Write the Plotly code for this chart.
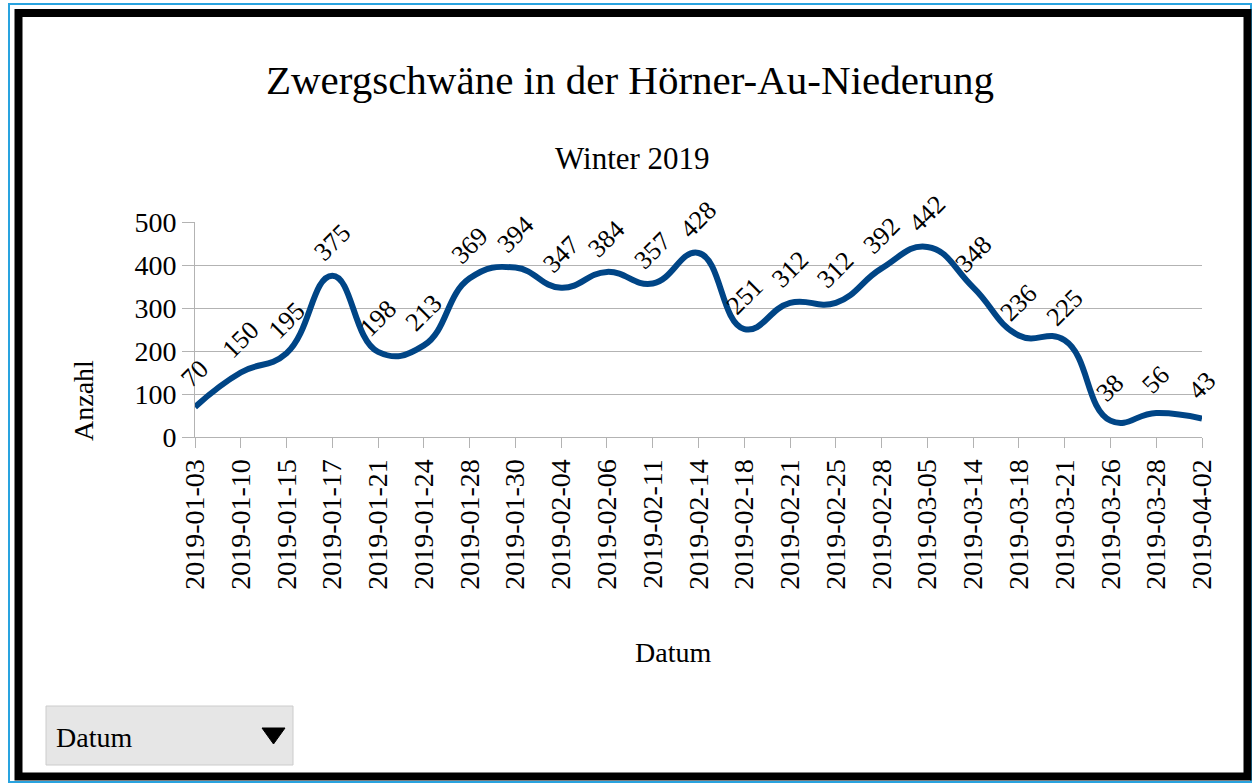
import plotly.graph_objects as go

dates = ["2019-01-03", "2019-01-10", "2019-01-15", "2019-01-17", "2019-01-21", "2019-01-24",
         "2019-01-28", "2019-01-30", "2019-02-04", "2019-02-06", "2019-02-11", "2019-02-14",
         "2019-02-18", "2019-02-21", "2019-02-25", "2019-02-28", "2019-03-05", "2019-03-14",
         "2019-03-18", "2019-03-21", "2019-03-26", "2019-03-28", "2019-04-02"]
counts = [70, 150, 195, 375, 198, 213, 369, 394, 347, 384, 357, 428,
          251, 312, 312, 392, 442, 348, 236, 225, 38, 56, 43]
y_ticks = [0, 100, 200, 300, 400, 500]

W, H = 1256, 784
L, R, T, B = 195, 1202, 222, 437  # plot area in pixels
FONT = "Liberation Serif"


def px(x):
    return (x - L) / (R - L)


def py(y):
    return (B - y) / (B - T)


fig = go.Figure()
fig.add_trace(go.Scatter(
    x=dates, y=counts, mode="lines",
    line=dict(color="#004586", width=6, shape="spline", smoothing=1.3),
    hoverinfo="x+y", showlegend=False,
))

annotations = []
for d, v in zip(dates, counts):
    annotations.append(dict(
        x=d, y=v, xref="x", yref="y", text=str(v), showarrow=False,
        textangle=-45, yshift=33, xshift=0,
        font=dict(family=FONT, size=26, color="#000000"),
    ))

annotations.append(dict(x=px(632), y=py(158), xref="paper", yref="paper",
                        text="Winter 2019", showarrow=False,
                        xanchor="center", yanchor="middle",
                        font=dict(family=FONT, size=31, color="#000000")))
annotations.append(dict(x=px(83), y=py(401), xref="paper", yref="paper",
                        text="Anzahl", showarrow=False, textangle=-90,
                        xanchor="center", yanchor="middle",
                        font=dict(family=FONT, size=28, color="#000000")))
annotations.append(dict(x=px(673), y=py(652), xref="paper", yref="paper",
                        text="Datum", showarrow=False,
                        xanchor="center", yanchor="middle",
                        font=dict(family=FONT, size=28, color="#000000")))
annotations.append(dict(x=px(54), y=py(737), xref="paper", yref="paper",
                        text="Datum", showarrow=False,
                        xanchor="left", yanchor="middle",
                        font=dict(family=FONT, size=28, color="#000000")))

shapes = [
    dict(type="rect", xref="paper", yref="paper",
         x0=px(9), x1=px(1251), y0=py(4), y1=py(782),
         line=dict(color="#29a3df", width=2), fillcolor="rgba(0,0,0,0)", layer="below"),
    dict(type="rect", xref="paper", yref="paper",
         x0=px(18.5), x1=px(1247.5), y0=py(13), y1=py(776.5),
         line=dict(color="#000000", width=8), fillcolor="rgba(0,0,0,0)", layer="below"),
    dict(type="rect", xref="paper", yref="paper",
         x0=px(46), x1=px(293), y0=py(706), y1=py(765),
         line=dict(color="#cccccc", width=1), fillcolor="#e6e6e6", layer="below"),
    dict(type="path", xref="paper", yref="paper",
         path=f"M {px(262)} {py(728)} L {px(285)} {py(728)} L {px(273.5)} {py(744)} Z",
         line=dict(color="#000000", width=1), fillcolor="#000000"),
]

fig.update_layout(
    width=W, height=H,
    margin=dict(l=L, r=W - R, t=T, b=H - B, autoexpand=False),
    paper_bgcolor="#ffffff", plot_bgcolor="#ffffff",
    font=dict(family=FONT, color="#000000"),
    title=dict(text="Zwergschwäne in der Hörner-Au-Niederung",
               x=630 / W, xref="container", xanchor="center",
               y=1 - 80 / H, yref="container", yanchor="middle",
               font=dict(family=FONT, size=41, color="#000000")),
    annotations=annotations,
    shapes=shapes,
    showlegend=False,
)

fig.update_xaxes(
    type="category", range=[0, len(dates) - 1],
    showgrid=False, showline=True, linecolor="#b3b3b3", linewidth=1,
    ticks="outside", ticklen=10, tickcolor="#b3b3b3", tickwidth=1,
    tickangle=-90, tickfont=dict(family=FONT, size=28, color="#000000"),
    zeroline=False, fixedrange=True,
)
fig.update_yaxes(
    range=[0, 500], tickvals=y_ticks, ticktext=[str(t) for t in y_ticks],
    showgrid=True, gridcolor="#b3b3b3", gridwidth=1,
    showline=True, linecolor="#b3b3b3", linewidth=1,
    ticks="outside", ticklen=12, tickcolor="#b3b3b3", tickwidth=1,
    tickfont=dict(family=FONT, size=28, color="#000000"),
    zeroline=False, fixedrange=True,
)

fig.write_html(
    "out.html",
    config={"displayModeBar": False},
    post_script="document.body.style.margin='0';document.body.style.padding='0';document.body.style.overflow='hidden';",
)
